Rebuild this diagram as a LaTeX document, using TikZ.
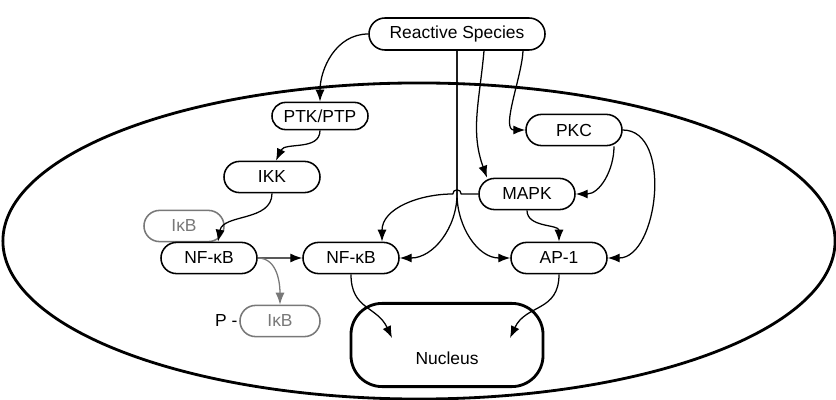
\documentclass[tikz,border=0pt]{standalone}
\usepackage{fontspec}
\setmainfont{Liberation Sans}
\usetikzlibrary{arrows.meta,calc,shapes.misc}
\definecolor{inactive}{gray}{0.47}
\begin{document}
\begin{tikzpicture}[x=0.025cm, y=0.025cm, font=\fontsize{12.4}{14}\selectfont,
        species/.style={draw, rounded rectangle, line width=1.1pt, minimum width=2.4cm, minimum height=0.78cm, inner sep=0pt},
        released/.style={species, draw=inactive, text=inactive, minimum width=2cm},
        link/.style={-{Latex[length=8.5pt,width=6.5pt]}, line width=0.9pt}]
        \useasboundingbox (0,0) rectangle (836,-400);
        \draw[line width=2pt] (419,-241) ellipse [x radius=10.4cm, y radius=3.95cm];
        \node[species, minimum width=4.4cm, minimum height=0.8cm] (rs) at (457,-34) {Reactive Species};
        \node[species, minimum height=0.68cm] (ptk) at (320,-116) {PTK/PTP};
        \node[species] (ikk) at (272,-177) {IKK};
        \node[released] (ikb) at (184,-226) {IκB};
        \node[species] (nfkb1) at (209,-258) {NF-κB};
        \node[species] (nfkb2) at (351,-258) {NF-κB};
        \node[released, label={[inner sep=1pt, text=black]left:P -}] (pikb) at (280,-321) {IκB};
        \node[species] (pkc) at (574,-130) {PKC};
        \node[species] (mapk) at (527,-194) {MAPK};
        \node[species] (ap1) at (559,-258) {AP-1};
        \node[draw, rectangle, line width=2pt, minimum width=4.8cm, minimum height=2.08cm, rounded corners=0.78cm, text height=0.97cm] (nucleus) at (447,-345) {Nucleus};
        \coordinate (hop) at (rs.south |- mapk.west);
        \draw[link] (rs.west) to[out=180,in=90] (ptk.north);
        \draw[link] (ptk.south) to[out=-90,in=65] ($(ikk.north)+(4,0)$);
        \draw[link] (ikk.south) to[out=-90,in=80] ($(nfkb1.north)+(9,0)$);
        \draw[link] (nfkb1) -- (nfkb2);
        \draw[link, inactive] (nfkb1.east) to[out=0,in=90] (pikb.north);
        \draw[link] (rs.south) -- (hop) to[out=-90,in=0] (nfkb2.east);
        \draw[link] (rs.south) -- (hop) to[out=-90,in=180] (ap1.west);
        \draw[link] (mapk.west) -- ([xshift=3pt]hop) arc[start angle=0, end angle=180, radius=3pt] to[out=180,in=90] ($(nfkb2.north)+(31,0)$);
        \draw[link] ($(rs.south)+(27,0)$) to[out=-95,in=110] ($(mapk.north)+(-40,0)$);
        \draw[link] ($(rs.south)+(66,0)$) to[out=-92,in=180,looseness=0.8] (pkc.west);
        \draw[link] ($(pkc.south)+(40,0)$) to[out=-90,in=0] (mapk.east);
        \draw[link] (pkc.east) to[out=0,in=0] (ap1.east);
        \draw[link] (mapk.south) to[out=-90,in=90] (ap1.north);
        \draw[link] (nfkb2.south) to[out=-90,in=115,looseness=1.2] ($(nucleus.center)+(-55,7)$);
        \draw[link] (ap1.south) to[out=-90,in=65,looseness=1.2] ($(nucleus.center)+(63,7)$);
    \end{tikzpicture}
\end{document}
